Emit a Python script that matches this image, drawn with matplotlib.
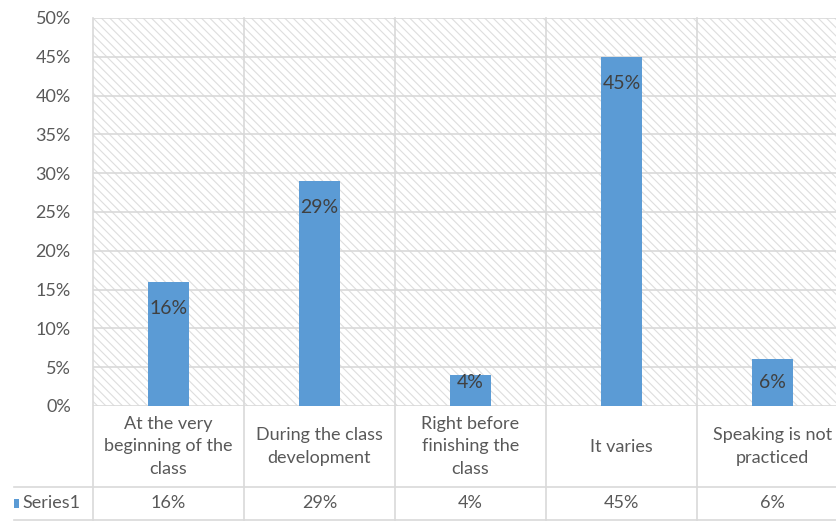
import matplotlib.pyplot as plt
from matplotlib.patches import Rectangle
from matplotlib.transforms import blended_transform_factory

plt.rcParams['font.family'] = ['Lato', 'DejaVu Sans']

# Datos del gráfico
categorias = ['At the very\nbeginning of the\nclass', 'During the class\ndevelopment',
              'Right before\nfinishing the\nclass', 'It varies', 'Speaking is not\npracticed']
valores = [16, 29, 4, 45, 6]
serie = 'Series1'
ticks_y = [0, 5, 10, 15, 20, 25, 30, 35, 40, 45, 50]

color_barra = '#5b9bd5'
color_grid = '#d9d9d9'
color_texto = '#595959'

fig = plt.figure(figsize=(8.37, 5.25), dpi=100)
# el eje se sale un poco por la derecha de la figura
ax = fig.add_axes([93 / 837, 119 / 525, 755 / 837, 388 / 525])

# fondo rayado del área de trazado
plt.rcParams['hatch.color'] = '#dedede'
plt.rcParams['hatch.linewidth'] = 0.8
fondo = Rectangle((0, 0), 1, 1, transform=ax.transAxes, facecolor='white',
                  edgecolor='#dedede', hatch='\\\\\\\\', linewidth=0, zorder=0)
ax.add_patch(fondo)

x = list(range(len(valores)))
ax.bar(x, valores, width=0.27, color=color_barra, zorder=3)

# etiquetas dentro de la barra, cerca del extremo
for xi, v in zip(x, valores):
    ax.text(xi, max(v - 3.4, 3.0), f'{v}%', ha='center', va='center', fontsize=14,
            color='#404040', zorder=4)

ax.set_xlim(-0.5, len(valores) - 0.5)
ax.set_ylim(0, 50)
ax.set_yticks(ticks_y)
ax.set_yticklabels([f'{t}%' for t in ticks_y], fontsize=13, color=color_texto)
ax.tick_params(axis='y', length=0, pad=16)
ax.set_xticks([])
for s in ax.spines.values():
    s.set_visible(False)

# líneas de cuadrícula
for t in ticks_y:
    ax.axhline(t, color=color_grid, linewidth=1.2, zorder=1)

# tabla de datos bajo el gráfico
tr = blended_transform_factory(ax.transData, ax.transAxes)
y_fila1 = -81 / 388
y_fila2 = -114 / 388
for b in [i - 0.5 for i in range(len(valores) + 1)]:
    ax.plot([b, b], [1, y_fila2], color=color_grid, linewidth=1.2,
            transform=tr, clip_on=False, zorder=1)

x_izq = (14 - 93) / 755
for yy in [y_fila1, y_fila2]:
    ax.plot([x_izq, 1], [yy, yy], color=color_grid, linewidth=1.2,
            transform=ax.transAxes, clip_on=False, zorder=1)

for xi, cat, v in zip(x, categorias, valores):
    ax.text(xi, y_fila1 / 2, cat, ha='center', va='center', fontsize=13,
            color=color_texto, linespacing=1.5, transform=tr)
    ax.text(xi, (y_fila1 + y_fila2) / 2, f'{v}%', ha='center', va='center',
            fontsize=13, color=color_texto, transform=tr)

# clave de la serie
ax.add_patch(Rectangle(((14 - 93) / 755, (y_fila1 + y_fila2) / 2 - 0.012), 5 / 755, 0.024,
                       transform=ax.transAxes, facecolor=color_barra, clip_on=False))
ax.text((22 - 93) / 755, (y_fila1 + y_fila2) / 2, serie, ha='left', va='center',
        fontsize=13, color=color_texto, transform=ax.transAxes)

fig.savefig('out.png', dpi=100)
